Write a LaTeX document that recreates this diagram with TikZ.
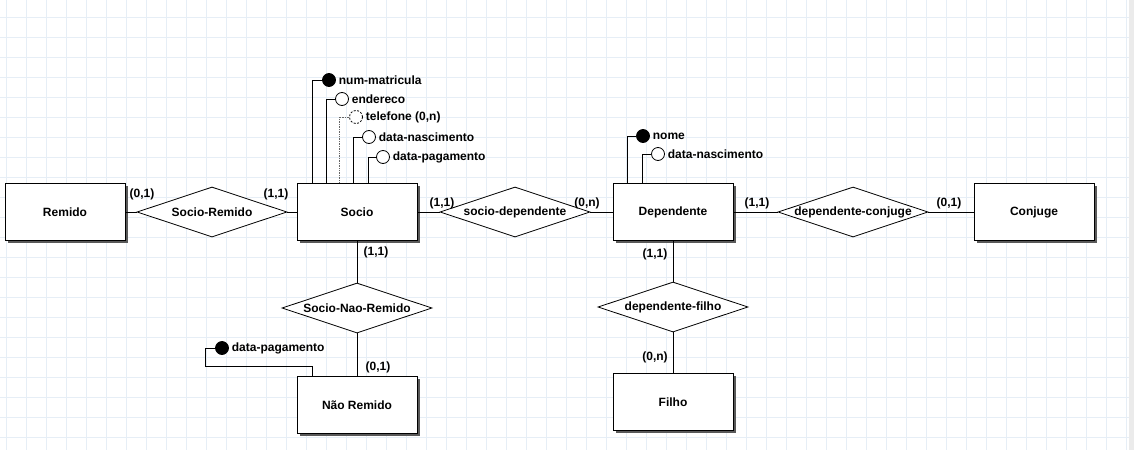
\documentclass[tikz,border=0pt]{standalone}
\usepackage{fontspec}
\setmainfont{Liberation Sans}
\usetikzlibrary{shapes.geometric,shadows}

\definecolor{gridblue}{RGB}{230,238,246}

\tikzset{
  entity/.style={draw, fill=white, line width=1pt, minimum width=120pt, minimum height=57pt, inner sep=0pt,
    drop shadow={shadow xshift=2.5pt, shadow yshift=-2.5pt, fill=black!65, opacity=1}},
  relation/.style={draw, diamond, fill=white, line width=0.8pt, minimum width=150pt, minimum height=50pt, inner sep=0pt},
  attr/.style={draw, circle, fill=white, line width=0.8pt, minimum size=13pt, inner sep=0pt},
  keyattr/.style={attr, fill=black},
  card/.style={inner sep=0pt},
  gridline/.style={gridblue, line width=1pt},
  every label/.append style={inner sep=2.5pt},
}

\begin{document}
\begin{tikzpicture}[x=1pt,y=-1pt,font=\fontsize{12}{14}\selectfont\bfseries,line width=0.9pt]
    \useasboundingbox (0,0) rectangle (1134,450);
    % background grid
    \foreach \gx in {6.5,26.5,...,1126.5}
      \draw[gridline] (\gx,0) -- (\gx,450);
    \foreach \gy in {17.5,37.5,...,437.5}
      \draw[gridline] (0,\gy) -- (1134,\gy);
    \fill[black!8] (1129,0) rectangle (1134,450);

    % entities
    \node[entity] (remido) at (65,212) {Remido};
    \node[entity] (socio) at (357,212) {Socio};
    \node[entity] (dependente) at (673,212) {Dependente};
    \node[entity] (conjuge) at (1034,212) {Conjuge};
    \node[entity] (naoremido) at (357,405) {Não Remido};
    \node[entity] (filho) at (673,402) {Filho};

    % relationships
    \node[relation, label=center:Socio-Remido] (socioremido) at (212,212) {};
    \node[relation, label=center:socio-dependente] (sociodep) at (515,212) {};
    \node[relation, label=center:dependente-conjuge] (depconj) at (853,212) {};
    \node[relation, label=center:Socio-Nao-Remido] (socionaoremido) at (357,308) {};
    \node[relation, label=center:dependente-filho] (depfilho) at (673,307) {};

    \draw (remido) -- (socioremido) -- (socio) -- (sociodep) -- (dependente) -- (depconj) -- (conjuge);
    \draw (socio) -- (socionaoremido) -- (naoremido);
    \draw (dependente) -- (depfilho) -- (filho);

    % cardinalities: {name/x/y/text}
    \foreach \n/\x/\y/\t in {c1/142/194/{(0,1)}, c2/276/194/{(1,1)}, c3/442/203/{(1,1)}, c4/587/203/{(0,n)},
        c5/757/203/{(1,1)}, c6/949/203/{(0,1)}, c7/376/252/{(1,1)}, c8/378/367/{(0,1)},
        c9/655/254/{(1,1)}, c10/655/357/{(0,n)}}
      \node[card] (\n) at (\x,\y) {\t};

    % Socio attributes
    \node[keyattr, label=right:num-matricula] (matricula) at (329,80) {};
    \draw (matricula.west) -| ([xshift=-45pt]socio.north);
    \node[attr, label=right:endereco] (endereco) at (342,99) {};
    \draw (endereco.west) -| ([xshift=-31pt]socio.north);
    \node[attr, dash pattern=on 2pt off 1.5pt, label={right:telefone (0,n)}] (telefone) at (356,117) {};
    \draw[densely dotted, black!60, line width=0.7pt] (telefone.west) -| ([xshift=-18pt]socio.north);
    \node[attr, label=right:data-nascimento] (socionasc) at (369,137) {};
    \draw (socionasc.west) -| ([xshift=-4pt]socio.north);
    \node[attr, label=right:data-pagamento] (sociopag) at (383,157) {};
    \draw (sociopag.west) -| ([xshift=11pt]socio.north);

    % Dependente attributes
    \node[keyattr, label=right:nome] (nome) at (643,136) {};
    \draw (nome.west) -| ([xshift=-46pt]dependente.north);
    \node[attr, label=right:data-nascimento] (depnasc) at (658,154) {};
    \draw (depnasc.west) -| ([xshift=-31pt]dependente.north);

    % Nao Remido attribute
    \node[keyattr, label=right:data-pagamento] (nrpag) at (222,348) {};
    \draw (nrpag.west) -- ++(-10,0) -- ++(0,18) -| ([xshift=-45pt]naoremido.north);
\end{tikzpicture}
\end{document}
